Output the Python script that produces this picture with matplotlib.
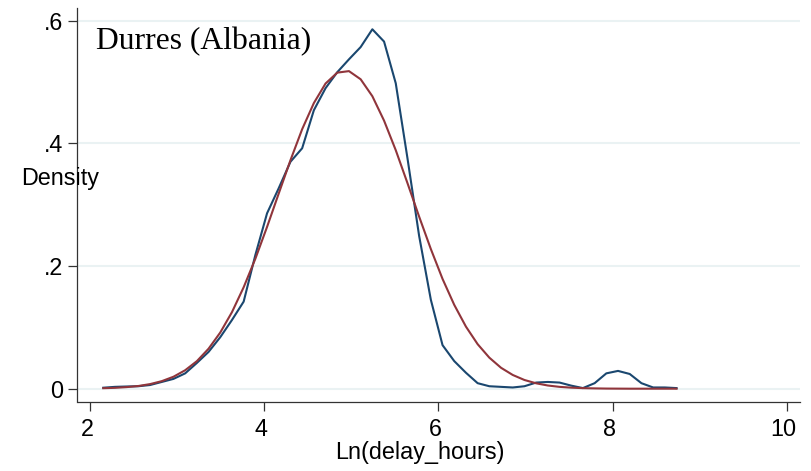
import numpy as np
import matplotlib
matplotlib.use("Agg")
import matplotlib.pyplot as plt
import matplotlib.transforms as mtransforms

# Evaluation grid (50 points)
x_start = 2.152
x_end = 8.735
x_points = np.linspace(x_start, x_end, 50)

# Kernel density (blue)
kdens = [0.0016, 0.003, 0.0036, 0.004, 0.006, 0.011, 0.016, 0.025, 0.042, 0.060,
         0.084, 0.112, 0.142, 0.218, 0.286, 0.327, 0.370, 0.392, 0.454, 0.490,
         0.516, 0.537, 0.557, 0.586, 0.566, 0.498, 0.376, 0.249, 0.145, 0.071,
         0.045, 0.026, 0.009, 0.004, 0.003, 0.002, 0.004, 0.010, 0.011, 0.010,
         0.005, 0.001, 0.009, 0.025, 0.029, 0.024, 0.009, 0.002, 0.002, 0.001]

# Normal density (red)
ndens = [0.0008, 0.0014, 0.0026, 0.0044, 0.0075, 0.0123, 0.0195, 0.0301, 0.0449, 0.0652,
         0.0916, 0.1248, 0.1654, 0.2119, 0.2638, 0.3184, 0.3725, 0.4231, 0.4657, 0.4976,
         0.5153, 0.5178, 0.5045, 0.4769, 0.4371, 0.3889, 0.3353, 0.2805, 0.2277, 0.1790,
         0.1367, 0.1012, 0.0726, 0.0506, 0.0341, 0.0224, 0.0142, 0.0088, 0.0052, 0.0030,
         0.0017, 0.0009, 0.0005, 0.0002, 0.0001, 0.0, 0.0, 0.0, 0.0, 0.0]

xticks = [2, 4, 6, 8, 10]
yticks = [0, 0.2, 0.4, 0.6]
ytick_labels = ["0", ".2", ".4", ".6"]

plt.rcParams['font.family'] = ['Liberation Sans', 'DejaVu Sans']

fig = plt.figure(figsize=(8.12, 4.71), dpi=100)
ax = fig.add_axes([77.5 / 812, 69.3 / 471, (800 - 77.5) / 812, (463 - 69.3) / 471])

ax.plot(x_points, kdens, color='#1a476f', linewidth=1.5, zorder=3)
ax.plot(x_points, ndens, color='#90353b', linewidth=1.5, zorder=3)

ax.set_xlim(1.856, 10.153)
ax.set_ylim(-0.0212, 0.6207)

ax.set_xticks(xticks)
ax.set_xticklabels([str(t) for t in xticks])
ax.set_yticks(yticks)
ax.set_yticklabels(ytick_labels)

for y in yticks:
    ax.axhline(y, color='#eaf2f3', linewidth=1.5, zorder=1)

for side in ['top', 'right']:
    ax.spines[side].set_visible(False)
for side in ['left', 'bottom']:
    ax.spines[side].set_color('#333333')
    ax.spines[side].set_linewidth(0.9)

ax.tick_params(axis='both', direction='out', length=6.5, width=0.9,
               color='#333333', labelsize=16.8, labelcolor='black')
ax.tick_params(axis='x', pad=5)
ax.tick_params(axis='y', pad=3.5)

# Stata puts the x tick labels a few pixels left of the ticks
shift = mtransforms.ScaledTranslation(-3 / 100, 0, fig.dpi_scale_trans)
for lab in ax.get_xticklabels():
    lab.set_transform(lab.get_transform() + shift)

fig.text(96 / 812, (471 - 49.5) / 471, "Durres (Albania)", family='Liberation Serif',
         fontsize=22.8, ha='left', va='baseline')
fig.text(21 / 812, (471 - 185) / 471, "Density", fontsize=16.8, ha='left', va='baseline')
fig.text(419.5 / 812, (471 - 459) / 471, "Ln(delay_hours)", fontsize=16.8,
         ha='center', va='baseline')

fig.savefig("out.png", dpi=100)
